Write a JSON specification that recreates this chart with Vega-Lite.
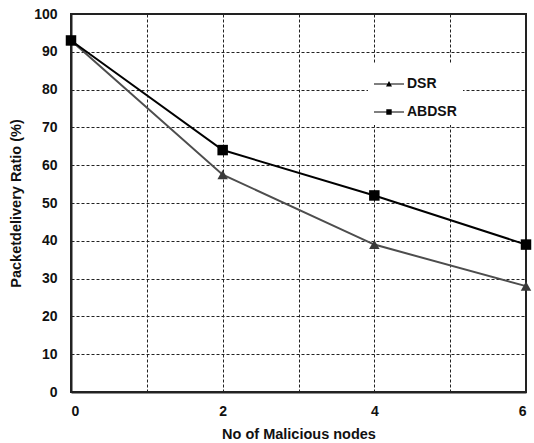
{
  "$schema": "https://vega.github.io/schema/vega-lite/v6.json",
  "autosize": "none",
  "width": 455,
  "height": 378,
  "padding": {"left": 71, "top": 14, "right": 8, "bottom": 51},
  "background": "white",
  "config": {
    "font": "Liberation Sans",
    "view": {"stroke": "#222", "strokeWidth": 2},
    "axis": {
      "labelFont": "Liberation Sans",
      "labelFontWeight": "bold",
      "labelFontSize": 14,
      "labelColor": "#111",
      "titleFont": "Liberation Sans",
      "titleFontWeight": "bold",
      "titleFontSize": 14.5,
      "titleColor": "#111",
      "gridColor": "#222",
      "gridDash": [3, 2],
      "gridWidth": 1,
      "gridOpacity": 1,
      "ticks": false,
      "domainColor": "#222",
      "domainWidth": 2
    }
  },
  "data": {
    "values": [
      {"nodes": 0, "ratio": 93, "series": "DSR"},
      {"nodes": 2, "ratio": 57.5, "series": "DSR"},
      {"nodes": 4, "ratio": 39, "series": "DSR"},
      {"nodes": 6, "ratio": 28, "series": "DSR"},
      {"nodes": 0, "ratio": 93, "series": "ABDSR"},
      {"nodes": 2, "ratio": 64, "series": "ABDSR"},
      {"nodes": 4, "ratio": 52, "series": "ABDSR"},
      {"nodes": 6, "ratio": 39, "series": "ABDSR"}
    ]
  },
  "encoding": {
    "x": {
      "field": "nodes",
      "type": "quantitative",
      "scale": {"domain": [0, 6], "nice": false},
      "axis": {
        "values": [0, 1, 2, 3, 4, 5, 6],
        "labelExpr": "datum.value % 2 == 0 ? datum.label : ''",
        "labelPadding": 12,
        "title": "No of Malicious nodes",
        "titlePadding": 9
      }
    },
    "y": {
      "field": "ratio",
      "type": "quantitative",
      "scale": {"domain": [0, 100], "nice": false},
      "axis": {
        "values": [0, 10, 20, 30, 40, 50, 60, 70, 80, 90, 100],
        "labelPadding": 14,
        "title": "Packetdelivery Ratio (%)",
        "titlePadding": 10
      }
    }
  },
  "layer": [
    {
      "mark": {"type": "line", "strokeWidth": 2},
      "encoding": {
        "color": {
          "field": "series",
          "type": "nominal",
          "scale": {"domain": ["DSR", "ABDSR"], "range": ["#4d4d4d", "#000000"]},
          "legend": {
            "orient": "none",
            "legendX": 297,
            "legendY": 49,
            "title": null,
            "fillColor": "white",
            "padding": 6,
            "labelFont": "Liberation Sans",
            "labelFontWeight": "bold",
            "labelFontSize": 14,
            "labelColor": "#111",
            "symbolSize": 900,
            "symbolStrokeWidth": 0,
            "symbolType": "M-1,-0.035H1V0.035H-1Z",
            "rowPadding": 6,
            "labelOffset": 3,
            "encode": {
              "symbols": {
                "update": {
                  "shape": {"signal": "datum.value === 'DSR' ? 'M-1,-0.035H1V0.035H-1Z M0,-0.2L0.2,0.16L-0.2,0.16Z' : 'M-1,-0.035H1V0.035H-1Z M-0.18,-0.18H0.18V0.18H-0.18Z'"},
                  "fill": {"value": "#000"},
                  "stroke": {"value": "transparent"},
                  "strokeWidth": {"value": 0},
                  "opacity": {"value": 1}
                }
              }
            }
          }
        }
      }
    },
    {
      "transform": [{"filter": "datum.series === 'DSR'"}],
      "mark": {"type": "point", "filled": true, "opacity": 1, "shape": "triangle-up", "size": 110, "color": "#3a3a3a"}
    },
    {
      "transform": [{"filter": "datum.series === 'ABDSR'"}],
      "mark": {"type": "point", "filled": true, "opacity": 1, "shape": "square", "size": 110, "color": "#000000"}
    }
  ]
}
